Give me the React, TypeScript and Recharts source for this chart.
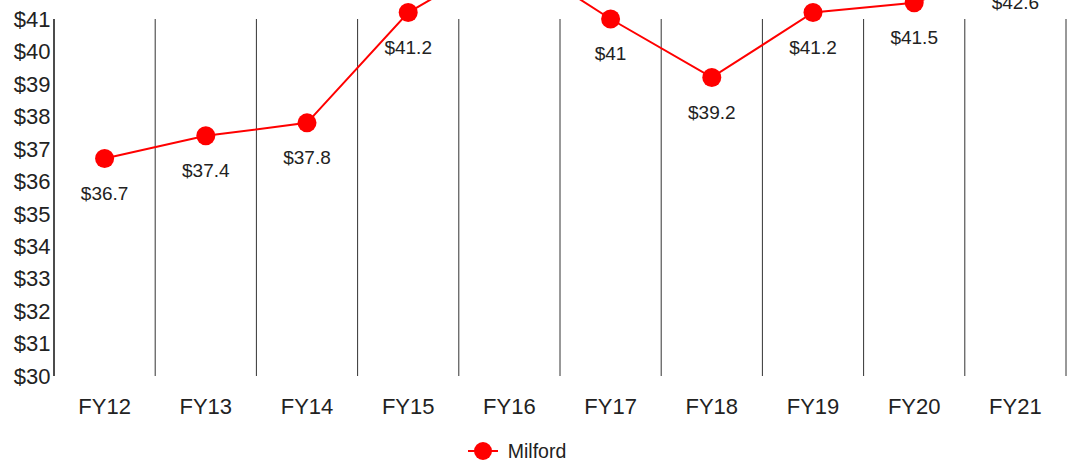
import React from 'react';
import { LineChart, Line, XAxis, YAxis, CartesianGrid, Legend, LabelList } from 'recharts';

const categories = ['FY12', 'FY13', 'FY14', 'FY15', 'FY16', 'FY17', 'FY18', 'FY19', 'FY20', 'FY21'];
const milford = [36.7, 37.4, 37.8, 41.2, 43.0, 41, 39.2, 41.2, 41.5, 42.6];
const yTicks = [30, 31, 32, 33, 34, 35, 36, 37, 38, 39, 40, 41];
const seriesName = 'Milford';

const data = categories.map((c, i) => ({ name: c, Milford: milford[i] }));

const RED = '#ff0000';
const TEXT = '#222222';

// vertical grid lines on the band boundaries of the category axis
const bandBoundaries = (props: any) => {
  const { offset } = props;
  const n = categories.length;
  const out: number[] = [];
  for (let i = 0; i <= n; i++) out.push(offset.left + (offset.width * i) / n);
  return out;
};

const renderLegend = (props: any) => {
  const payload = props.payload || [];
  return (
    <div
      style={{
        height: 36,
        boxSizing: 'border-box',
        paddingTop: 14,
        paddingRight: 39,
        display: 'flex',
        justifyContent: 'center',
        alignItems: 'center',
      }}
    >
      {payload.map((entry: any) => (
        <div key={entry.value} style={{ display: 'flex', alignItems: 'center' }}>
          <svg width={30} height={20} style={{ display: 'block' }}>
            <line x1={0} y1={10} x2={30} y2={10} stroke={RED} strokeWidth={2} />
            <circle cx={15} cy={10} r={9} fill={RED} />
          </svg>
          <span style={{ marginLeft: 10, fontSize: 19.5, color: TEXT }}>{entry.value}</span>
        </div>
      ))}
    </div>
  );
};

export default function App() {
  return (
    <div style={{ position: 'absolute', left: 0, top: 0, fontFamily: '"Liberation Sans", Arial, sans-serif' }}>
      <style>{'.recharts-wrapper [clip-path]{clip-path:none !important;}'}</style>
      <LineChart width={1073} height={462} data={data} margin={{ top: 19, right: 7, bottom: 0, left: 0 }}>
        <CartesianGrid horizontal={false} stroke="#333" verticalCoordinatesGenerator={bandBoundaries} />
        <XAxis
          dataKey="name"
          scale="band"
          axisLine={false}
          tickLine={false}
          tickSize={0}
          tickMargin={22}
          height={50}
          interval={0}
          tick={{ fontSize: 22, fill: TEXT }}
        />
        <YAxis
          width={54}
          domain={[30, 41]}
          allowDataOverflow
          ticks={yTicks}
          interval={0}
          tickLine={false}
          tickSize={0}
          tickMargin={3.5}
          axisLine={{ stroke: '#333', strokeWidth: 1.5 }}
          tick={{ fontSize: 22, fill: TEXT }}
          tickFormatter={(v: number) => `$${v}`}
        />
        <Legend verticalAlign="bottom" content={renderLegend} wrapperStyle={{ left: 0, width: 1073 }} />
        <Line
          type="linear"
          dataKey="Milford"
          name={seriesName}
          stroke={RED}
          strokeWidth={2}
          dot={{ r: 9.5, fill: RED, stroke: 'none' }}
          activeDot={false}
          isAnimationActive={false}
        >
          <LabelList
            dataKey="Milford"
            position="bottom"
            offset={28}
            fontSize={19}
            fill={TEXT}
            formatter={(v: any) => `$${v}`}
          />
        </Line>
      </LineChart>
    </div>
  );
}
